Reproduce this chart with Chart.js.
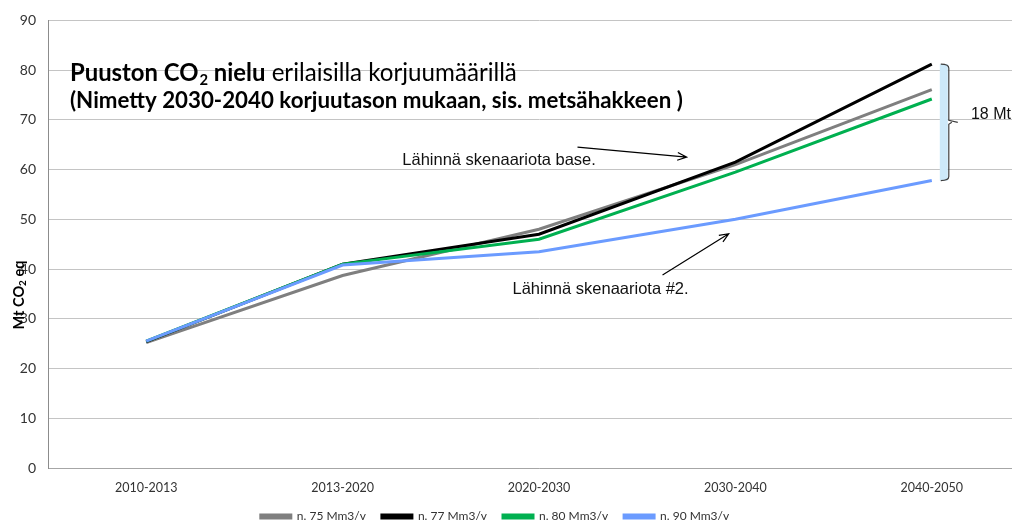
<!DOCTYPE html>
<html>
<head>
<meta charset="utf-8">
<script src="https://cdn.jsdelivr.net/npm/chart.js@4.4.1/dist/chart.umd.min.js"></script>
<style>
  html, body { margin: 0; padding: 0; background: #fff; overflow: hidden; }
  #wrap { position: relative; width: 1012px; height: 520px; overflow: hidden; }
  #myChart { position: absolute; left: -40px; top: 0; }
</style>
</head>
<body>
<div id="wrap"><canvas id="myChart" width="1080" height="540"></canvas></div>
<script>
// data
const periods = ['2010-2013', '2013-2020', '2020-2030', '2030-2040', '2040-2050'];
const n75 = [25.2, 38.7, 48.0, 61.0, 76.1];
const n77 = [25.4, 41.0, 47.0, 61.5, 81.2];
const n80 = [25.5, 41.0, 46.0, 59.5, 74.2];
const n90 = [25.5, 40.8, 43.5, 50.0, 57.8];
const seriesNames = ['n. 75 Mm3/v', 'n. 77 Mm3/v', 'n. 80 Mm3/v', 'n. 90 Mm3/v'];
const seriesColors = ['#7f7f7f', '#000000', '#00b050', '#6b9bff'];
const yMin = 0, yMax = 90, yStep = 10;

const FONT = 'Lato, "Open Sans", sans-serif';
const ARIAL = '"Liberation Sans", Arial, sans-serif';

function fitSize(ctx, text, weight, target, base) {
  ctx.font = weight + ' ' + base + 'px ' + FONT;
  return base * target / ctx.measureText(text).width;
}

function arrow(ctx, x1, y1, x2, y2) {
  ctx.beginPath();
  ctx.moveTo(x1, y1);
  ctx.lineTo(x2, y2);
  const a = Math.atan2(y2 - y1, x2 - x1);
  const h = 10;
  ctx.moveTo(x2 - h * Math.cos(a - 0.4), y2 - h * Math.sin(a - 0.4));
  ctx.lineTo(x2, y2);
  ctx.lineTo(x2 - h * Math.cos(a + 0.4), y2 - h * Math.sin(a + 0.4));
  ctx.stroke();
}

// texts, arrows and the bracket drawn on top of the chart
const notes = {
  id: 'notes',
  afterDatasetsDraw(chart) {
    const { ctx, chartArea, scales: { x, y } } = chart;
    const px = v => x.getPixelForValue(v);
    const py = v => y.getPixelForValue(v);
    ctx.save();

    // title
    const tx = chartArea.left + 22;
    ctx.fillStyle = '#000';
    ctx.textBaseline = 'alphabetic';
    ctx.textAlign = 'left';
    let s1 = fitSize(ctx, 'Puuston CO nielu', 'bold', 186, 20);
    ctx.font = 'bold ' + s1 + 'px ' + FONT;
    let cx = tx;
    ctx.fillText('Puuston CO', cx, 81);
    cx += ctx.measureText('Puuston CO').width;
    ctx.font = 'bold ' + (s1 * 0.62) + 'px ' + FONT;
    ctx.fillText('2', cx + 1, 85);
    cx += ctx.measureText('2').width + 1;
    ctx.font = 'bold ' + s1 + 'px ' + FONT;
    ctx.fillText(' nielu', cx, 81);
    cx += ctx.measureText(' nielu').width;
    let s2 = fitSize(ctx, ' erilaisilla korjuumäärillä', 'normal', 517 + 40 - cx, 17);
    ctx.font = 'normal ' + s2 + 'px ' + FONT;
    ctx.fillText(' erilaisilla korjuumäärillä', cx, 81);
    const line2 = '(Nimetty 2030-2040 korjuutason mukaan, sis. metsähakkeen )';
    let s3 = fitSize(ctx, line2, 'bold', 613, 18);
    ctx.font = 'bold ' + s3 + 'px ' + FONT;
    ctx.fillText(line2, tx, 108);

    // y axis title
    ctx.save();
    ctx.translate(chartArea.left - 29, 295);
    ctx.rotate(-Math.PI / 2);
    const a = 'Mt CO', b = '2', c = ' eq';
    ctx.font = 'bold 14.5px ' + FONT;
    const wa = ctx.measureText(a).width, wc = ctx.measureText(c).width;
    ctx.font = 'bold 10px ' + FONT;
    const wb = ctx.measureText(b).width;
    let sx = -(wa + wb + wc) / 2;
    ctx.textBaseline = 'middle';
    ctx.font = 'bold 14.5px ' + FONT;
    ctx.fillText(a, sx, 0);
    ctx.font = 'bold 10px ' + FONT;
    ctx.fillText(b, sx + wa, 4);
    ctx.font = 'bold 14.5px ' + FONT;
    ctx.fillText(c, sx + wa + wb, 0);
    ctx.restore();

    // annotation texts
    ctx.font = '16.5px ' + ARIAL;
    ctx.fillStyle = '#111';
    ctx.textBaseline = 'middle';
    ctx.fillText('Lähinnä skenaariota base.', px(1.304), py(61.9));
    ctx.fillText('Lähinnä skenaariota #2.', px(1.865), py(36.0));

    ctx.strokeStyle = '#000';
    ctx.lineWidth = 1.2;
    arrow(ctx, px(2.196), py(64.5), px(2.752), py(62.5));
    arrow(ctx, px(2.629), py(38.8), px(2.966), py(47.1));

    // bracket between the highest and lowest end values
    const top = py(n77[4]), bot = py(n90[4]);
    const xe = px(4);
    ctx.fillStyle = '#cde9f9';
    ctx.fillRect(xe + 8, top, 8, bot - top);
    const xl = xe + 9, xr = xe + 17, xt = xe + 26, mid = (top + bot) / 2;
    ctx.strokeStyle = '#404040';
    ctx.lineWidth = 1.2;
    ctx.beginPath();
    ctx.moveTo(xl, top);
    ctx.quadraticCurveTo(xr, top, xr, top + 4);
    ctx.lineTo(xr, mid - 2);
    ctx.lineTo(xt, mid);
    ctx.moveTo(xr + 3, mid);
    ctx.lineTo(xr, mid + 2);
    ctx.lineTo(xr, bot - 4);
    ctx.quadraticCurveTo(xr, bot, xl, bot);
    ctx.stroke();
    ctx.fillStyle = '#111';
    ctx.font = '16px ' + ARIAL;
    ctx.fillText('18 Mt', px(4.199), py(71.1));

    ctx.restore();
  }
};

const series = [n75, n77, n80, n90];
const datasets = series.map((vals, i) => ({
  label: seriesNames[i],
  data: vals,
  borderColor: seriesColors[i],
  backgroundColor: seriesColors[i],
  borderWidth: 3,
  pointRadius: 0,
  tension: 0,
  order: 4 - i
}));

const ctx = document.getElementById('myChart');

new Chart(ctx, {
  type: 'line',
  data: { labels: periods, datasets: datasets },
  options: {
    responsive: false,
    animation: false,
    layout: { padding: { top: 20, right: 10, left: 0, bottom: 7.5 } },
    plugins: {
      legend: {
        position: 'bottom',
        reverse: true,
        labels: {
          boxWidth: 30,
          boxHeight: 3,
          padding: 16,
          color: '#333',
          font: { family: FONT, size: 12 }
        }
      },
      tooltip: { enabled: false }
    },
    scales: {
      x: {
        offset: true,
        grid: { display: false, drawTicks: false },
        border: { color: '#a6a6a6' },
        ticks: { color: '#333', padding: 12, maxRotation: 0, font: { family: FONT, size: 12.5 } },
        afterFit: s => { s.height = 26.5; }
      },
      y: {
        min: yMin,
        max: yMax,
        grid: { color: '#c4c4c4', drawTicks: false },
        border: { color: '#8c8c8c' },
        ticks: { stepSize: yStep, color: '#333', padding: 12, font: { family: FONT, size: 14 } },
        afterFit: s => { s.width = 88; }
      }
    }
  },
  plugins: [notes]
});
</script>
</body>
</html>
